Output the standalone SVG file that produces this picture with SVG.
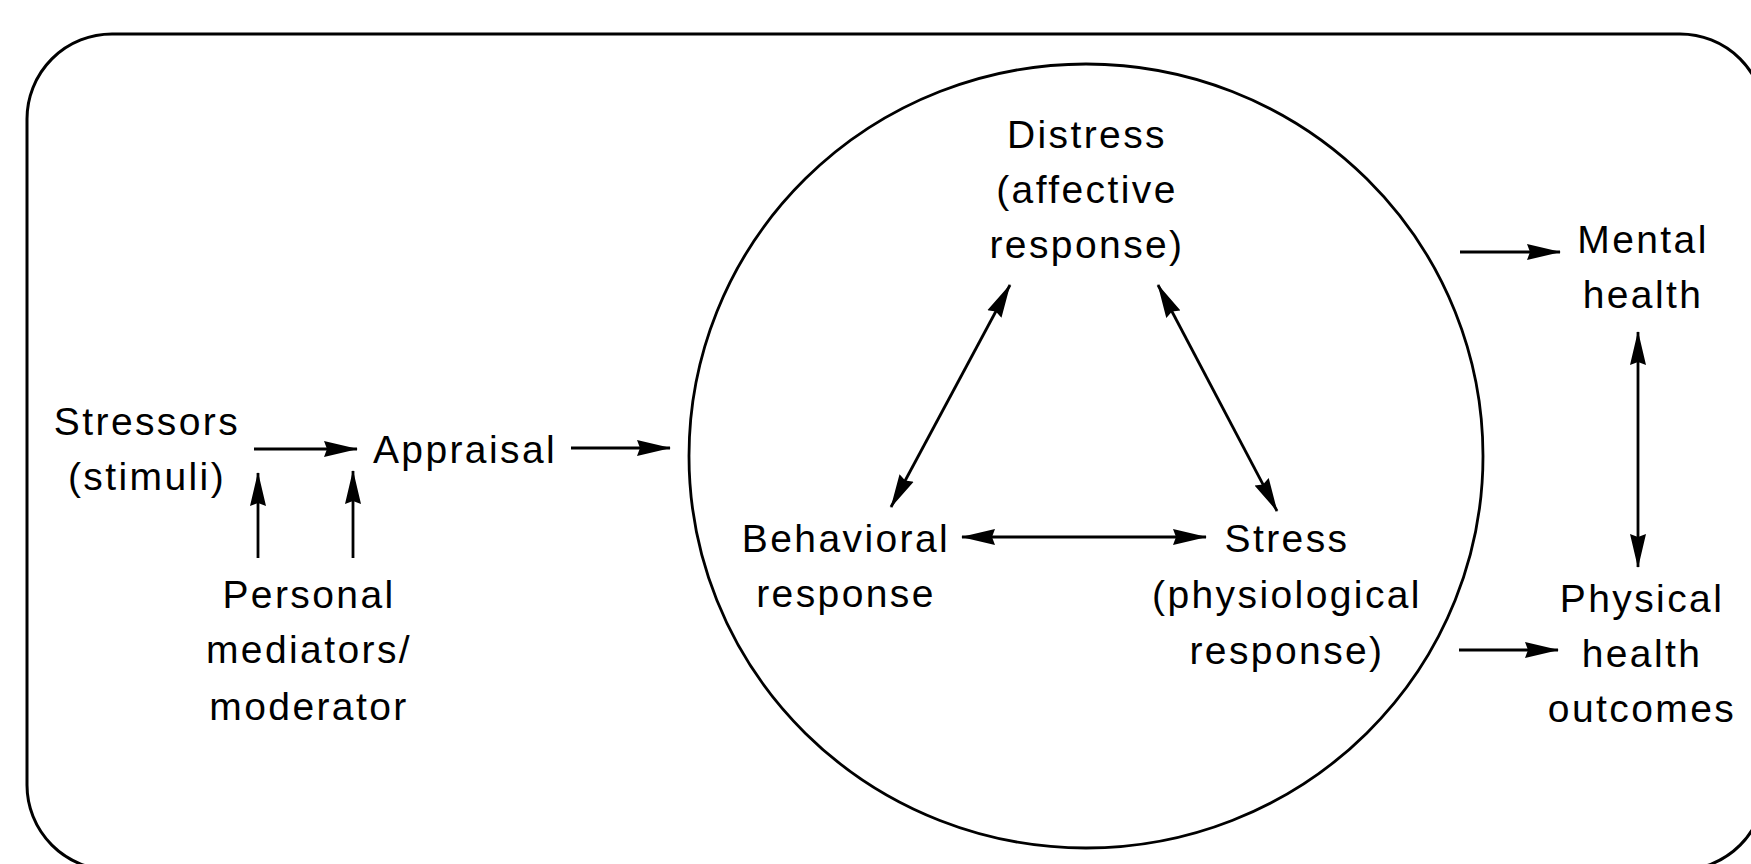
<svg xmlns="http://www.w3.org/2000/svg" width="1751" height="864" viewBox="0 0 1751 864">
<style>
  .t { font-family: "Liberation Sans", Arial, sans-serif; font-size: 39px; letter-spacing: 2.4px; fill: #000; text-anchor: middle; }
  .ln { stroke: #000; stroke-width: 2.8; fill: none; }
  .one { marker-end: url(#ah); }
  .two { marker-start: url(#ah); marker-end: url(#ah); }
</style>
<defs>
  <marker id="ah" markerUnits="userSpaceOnUse" viewBox="0 -9 34 18" markerWidth="34" markerHeight="18" refX="33" refY="0" orient="auto-start-reverse">
    <path d="M0,-8 L34,0 L0,8 L3,0 z" fill="#000"/>
  </marker>
</defs>
<rect width="1751" height="864" fill="#fff"/>
<g id="frame">
  <rect x="27" y="34" width="1738" height="836" rx="85" ry="85" fill="none" stroke="#000" stroke-width="3"/>
</g>
<g id="circle">
  <ellipse cx="1086" cy="456" rx="397" ry="392" fill="none" stroke="#000" stroke-width="2.8"/>
</g>
<g id="stressors">
  <text class="t" x="147" y="435">Stressors</text>
  <text class="t" x="147" y="490">(stimuli)</text>
</g>
<g id="appraisal">
  <text class="t" x="465" y="463">Appraisal</text>
</g>
<g id="personal">
  <text class="t" x="309" y="608">Personal</text>
  <text class="t" x="309" y="663">mediators/</text>
  <text class="t" x="309" y="720">moderator</text>
</g>
<g id="distress">
  <text class="t" x="1087" y="148">Distress</text>
  <text class="t" x="1087" y="203">(affective</text>
  <text class="t" x="1087" y="258">response)</text>
</g>
<g id="behavioral">
  <text class="t" x="846" y="552">Behavioral</text>
  <text class="t" x="846" y="607">response</text>
</g>
<g id="stress">
  <text class="t" x="1287" y="552">Stress</text>
  <text class="t" x="1287" y="608">(physiological</text>
  <text class="t" x="1287" y="664">response)</text>
</g>
<g id="mental">
  <text class="t" x="1643" y="253">Mental</text>
  <text class="t" x="1643" y="308">health</text>
</g>
<g id="physical">
  <text class="t" x="1642" y="612">Physical</text>
  <text class="t" x="1642" y="667">health</text>
  <text class="t" x="1642" y="722">outcomes</text>
</g>
<g id="connectors">
  <line class="ln one" x1="254" y1="449" x2="357" y2="449"/>
  <line class="ln one" x1="571" y1="448" x2="670" y2="448"/>
  <line class="ln one" x1="258" y1="558" x2="258" y2="473"/>
  <line class="ln one" x1="353" y1="558" x2="353" y2="471"/>
  <line class="ln two" x1="1010" y1="285" x2="891" y2="507"/>
  <line class="ln two" x1="1158" y1="285" x2="1277" y2="511"/>
  <line class="ln two" x1="962" y1="537" x2="1206" y2="537"/>
  <line class="ln one" x1="1460" y1="252" x2="1560" y2="252"/>
  <line class="ln one" x1="1459" y1="650" x2="1558" y2="650"/>
  <line class="ln two" x1="1638" y1="332" x2="1638" y2="567"/>
</g>
</svg>
